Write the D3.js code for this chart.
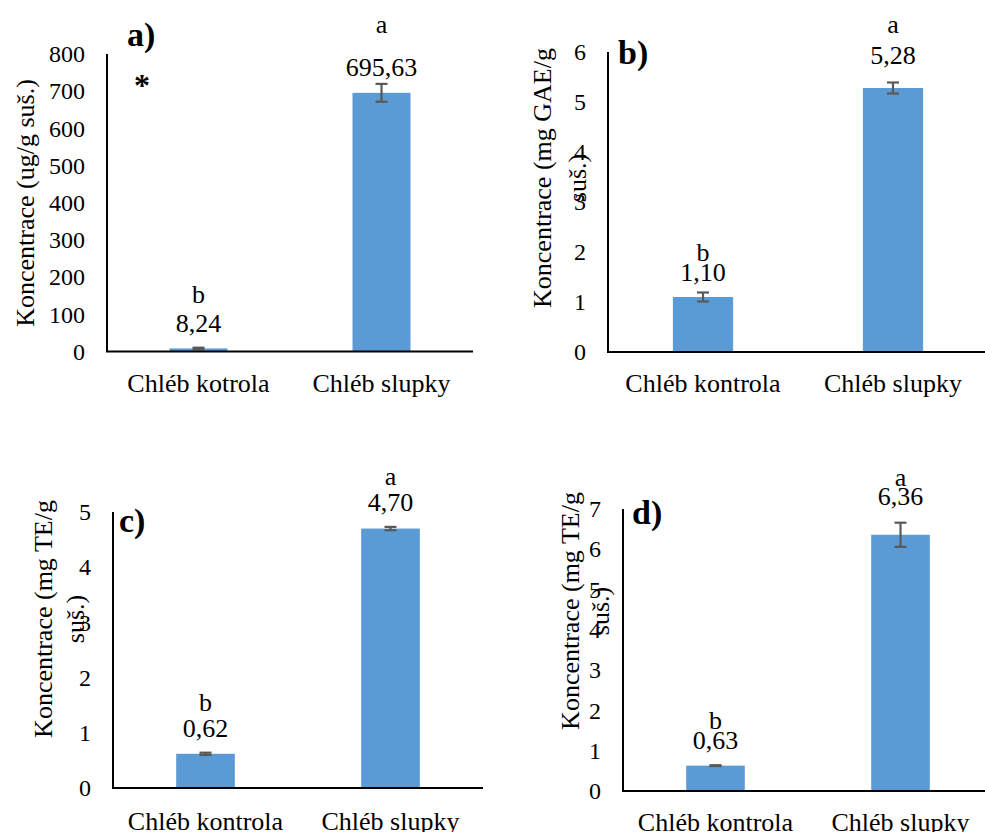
<!DOCTYPE html>
<html>
<head>
<meta charset="utf-8">
<script src="https://cdn.jsdelivr.net/npm/d3@7"></script>
<style>
  html, body { margin: 0; padding: 0; background: #fff; }
  svg { display: block; }
</style>
</head>
<body>
<svg id="chart" width="985" height="832"></svg>
<script>
// ---- data ----
const categoriesA = ["Chléb kotrola", "Chléb slupky"];
const categoriesBCD = ["Chléb kontrola", "Chléb slupky"];
const letters = ["b", "a"];

const valuesA = [8.24, 695.63];
const errorsA = [2, 24];
const valuesB = [1.10, 5.28];
const errorsB = [0.09, 0.11];
const valuesC = [0.62, 4.70];
const errorsC = [0.02, 0.03];
const valuesD = [0.63, 6.36];
const errorsD = [0.01, 0.30];

const yMaxes = [800, 6, 5, 7];
const tickSteps = [100, 1, 1, 1];
const panelTags = ["a)", "b)", "c)", "d)"];
const axisTitles = [
  ["Koncentrace (ug/g suš.)"],
  ["Koncentrace (mg GAE/g", "suš.)"],
  ["Koncentrace (mg TE/g", "suš.)"],
  ["Koncentrace (mg TE/g", "suš.)"]
];

// ---- layout (frames picked to sit like the original) ----
const panels = [
  { cats: categoriesA, values: valuesA, errors: errorsA,
    x0: 107, x1: 473, yTop: 54, yBot: 351.5, catY: 383,
    lift: [26, 26], letterGap: [27, 42],
    titleX: [25], titleY: 203, tagX: 127, tagY: 46 },
  { cats: categoriesBCD, values: valuesB, errors: errorsB,
    x0: 608, x1: 988, yTop: 52, yBot: 352, catY: 383,
    lift: [25, 33], letterGap: [19, 30],
    titleX: [542, 577], titleY: 178, tagX: 618, tagY: 64 },
  { cats: categoriesBCD, values: valuesC, errors: errorsC,
    x0: 113, x1: 483, yTop: 512, yBot: 788, catY: 821,
    lift: [26, 27], letterGap: [25, 24],
    titleX: [43, 75], titleY: 619, tagX: 119, tagY: 532 },
  { cats: categoriesBCD, values: valuesD, errors: errorsD,
    x0: 623, x1: 993, yTop: 509, yBot: 791, catY: 822,
    lift: [26, 39], letterGap: [18, 18],
    titleX: [570, 600], titleY: 611, tagX: 632, tagY: 524 }
];

const font = "Liberation Serif";
const barColor = "#5B9BD5";
const errColor = "#595959";
const cz = d3.formatLocale({ decimal: ",", thousands: " ", grouping: [3], currency: ["", " Kč"] });
const fmt = cz.format(".2f");

const svg = d3.select("#chart");

panels.forEach((p, k) => {
  const g = svg.append("g");

  const x = d3.scaleBand()
    .domain(p.cats)
    .range([p.x0, p.x1])
    .paddingInner(0.683)
    .paddingOuter(0.3415);

  const y = d3.scaleLinear()
    .domain([0, yMaxes[k]])
    .range([p.yBot, p.yTop]);

  const rows = p.cats.map((c, i) => ({ cat: c, v: p.values[i], e: p.errors[i], letter: letters[i], i }));

  // bars
  g.append("g")
    .selectAll("rect")
    .data(rows)
    .join("rect")
    .attr("x", d => x(d.cat))
    .attr("y", d => y(d.v))
    .attr("width", x.bandwidth())
    .attr("height", d => y(0) - y(d.v))
    .attr("fill", barColor);

  // error bars
  const eb = g.append("g")
    .attr("stroke", errColor)
    .attr("stroke-width", 2.2)
    .selectAll("g")
    .data(rows)
    .join("g")
    .attr("transform", d => `translate(${x(d.cat) + x.bandwidth() / 2},0)`);
  eb.append("line")
    .attr("y1", d => y(d.v - d.e)).attr("y2", d => y(d.v + d.e));
  eb.append("line")
    .attr("x1", -6).attr("x2", 6)
    .attr("y1", d => y(d.v + d.e)).attr("y2", d => y(d.v + d.e));
  eb.append("line")
    .attr("x1", -6).attr("x2", 6)
    .attr("y1", d => y(d.v - d.e)).attr("y2", d => y(d.v - d.e));

  // y axis
  const yAxis = d3.axisLeft(y)
    .tickValues(d3.range(0, yMaxes[k] + tickSteps[k] / 2, tickSteps[k]))
    .tickSize(0)
    .tickPadding(22)
    .tickFormat(d3.format("d"));
  const ya = g.append("g")
    .attr("transform", `translate(${p.x0},0)`)
    .call(yAxis)
    .attr("font-family", font)
    .attr("font-size", 24);
  ya.select(".domain").attr("stroke", "#000").attr("stroke-width", 2)
    .attr("d", `M0,${p.yTop}V${p.yBot}`);
  ya.selectAll("text").attr("fill", "#000");

  // x axis (line only; labels drawn below)
  const xAxis = d3.axisBottom(x).tickSize(0).tickFormat("");
  const xa = g.append("g")
    .attr("transform", `translate(0,${p.yBot})`)
    .call(xAxis);
  xa.select(".domain").attr("stroke", "#000").attr("stroke-width", 2)
    .attr("d", `M${p.x0 - 1},0H${p.x1}`);

  const txt = g.append("g")
    .attr("font-family", font)
    .attr("fill", "#000");

  txt.append("g")
    .selectAll("text")
    .data(rows)
    .join("text")
    .attr("x", d => x(d.cat) + x.bandwidth() / 2)
    .attr("y", p.catY)
    .attr("dy", "0.35em")
    .attr("text-anchor", "middle")
    .attr("font-size", 26)
    .text(d => d.cat);

  // value labels + significance letters
  txt.append("g")
    .selectAll("text")
    .data(rows)
    .join("text")
    .attr("x", d => x(d.cat) + x.bandwidth() / 2)
    .attr("y", d => y(d.v) - p.lift[d.i])
    .attr("dy", "0.35em")
    .attr("text-anchor", "middle")
    .attr("font-size", 26)
    .text(d => fmt(d.v));
  txt.append("g")
    .selectAll("text")
    .data(rows)
    .join("text")
    .attr("x", d => x(d.cat) + x.bandwidth() / 2)
    .attr("y", d => y(d.v) - p.lift[d.i] - p.letterGap[d.i])
    .attr("dy", "0.3em")
    .attr("text-anchor", "middle")
    .attr("font-size", 26)
    .text(d => d.letter);

  // axis title (rotated, possibly two lines)
  axisTitles[k].forEach((line, j) => {
    txt.append("text")
      .attr("transform", `translate(${p.titleX[j]},${p.titleY}) rotate(-90)`)
      .attr("dy", "0.35em")
      .attr("text-anchor", "middle")
      .attr("font-size", 26)
      .text(line);
  });

  // panel tag
  txt.append("text")
    .attr("x", p.tagX)
    .attr("y", p.tagY)
    .attr("font-weight", "bold")
    .attr("font-size", 34)
    .text(panelTags[k]);
});

// significance star in panel a
svg.append("text")
  .attr("x", 142)
  .attr("y", 96)
  .attr("text-anchor", "middle")
  .attr("font-family", font)
  .attr("font-weight", "bold")
  .attr("font-size", 32)
  .text("*");
</script>
</body>
</html>
